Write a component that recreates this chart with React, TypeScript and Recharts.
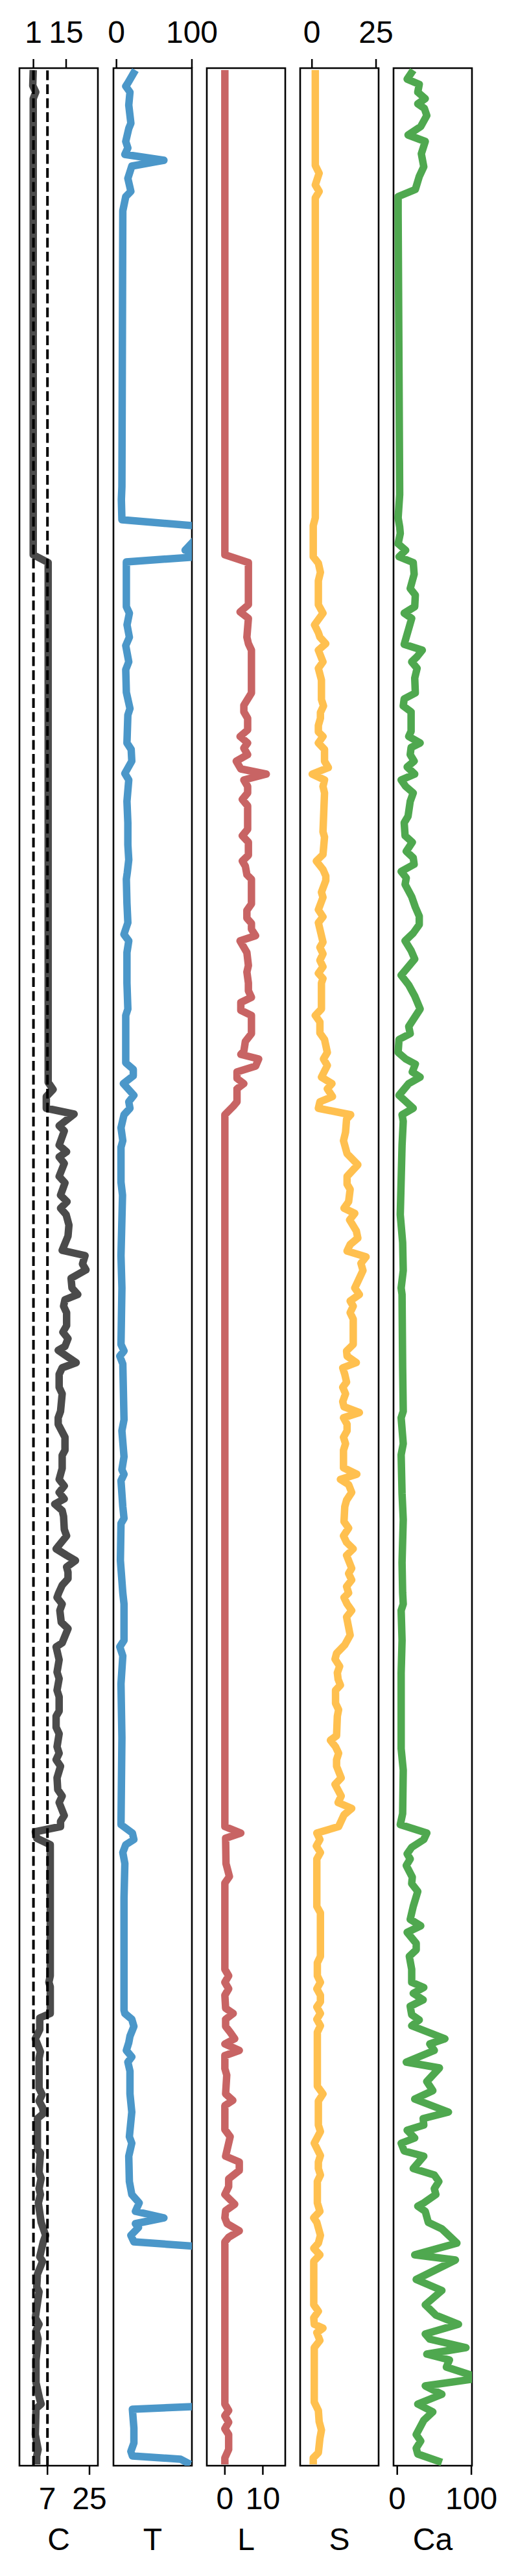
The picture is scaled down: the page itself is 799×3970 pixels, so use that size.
import React from 'react';
import { LineChart, Line, XAxis, YAxis, ReferenceLine, ReferenceArea } from 'recharts';

// depth (m) , value pairs
const cData: [number, number][] = [
  [0.3, 0.9], [2.7, 0.7], [3.7, 2.0], [4.7, 0.9], [75.0, 0.9], [76.2, 7.3], [156.3, 7.3], [157.4, 9.4], [158.5, 6.5],
  [160.3, 6.5], [161.2, 18.4], [163.0, 12.0], [163.8, 14.2], [166.0, 12.0], [167.0, 15.2], [167.8, 12.0], [168.8, 14.2],
  [170.8, 12.0], [171.8, 14.5], [173.7, 12.6], [174.7, 15.4], [175.7, 12.6], [176.7, 15.0], [178.3, 16.2], [180.0, 15.8],
  [182.2, 13.3], [183.0, 23.1], [184.3, 22.0], [185.2, 23.5], [186.5, 17.1], [188.0, 17.5], [189.0, 20.0], [189.8, 14.5],
  [190.8, 13.9], [191.8, 15.2], [193.8, 15.2], [194.8, 13.6], [195.8, 15.8], [197.0, 14.5], [197.6, 11.6], [198.5, 15.2],
  [199.5, 19.3], [200.3, 13.3], [201.3, 12.0], [203.3, 12.0], [204.3, 13.3], [207.0, 12.6], [208.0, 11.6], [209.0, 11.6],
  [211.0, 14.5], [213.0, 14.5], [213.8, 13.3], [215.8, 13.3], [217.5, 12.0], [218.5, 14.2], [219.5, 12.0], [220.5, 14.2],
  [221.3, 10.1], [222.3, 13.3], [223.2, 13.9], [225.2, 14.2], [226.2, 15.2], [228.2, 10.7], [229.2, 15.2], [230.0, 19.0],
  [231.0, 15.2], [231.8, 15.8], [232.8, 15.8], [233.8, 13.3], [235.0, 11.8], [235.7, 11.1], [236.7, 13.3], [237.7, 12.3],
  [239.5, 12.9], [240.5, 15.8], [242.7, 13.3], [243.3, 10.7], [245.3, 12.0], [247.2, 11.1], [248.2, 12.0], [250.0, 11.1],
  [251.0, 12.0], [253.2, 12.0], [254.0, 10.7], [255.7, 10.7], [256.7, 12.0], [258.7, 11.1], [259.7, 12.0], [260.7, 10.7],
  [261.7, 12.6], [263.5, 11.1], [265.3, 11.4], [266.3, 13.3], [267.3, 12.0], [269.3, 14.2], [270.2, 12.6], [271.0, 12.6],
  [271.8, 1.8], [272.8, 2.4], [273.8, 8.2], [294.0, 8.2], [295.0, 7.6], [295.7, 8.2], [299.8, 8.2], [300.5, 3.7],
  [302.3, 3.7], [303.7, 1.8], [305.7, 4.0], [306.7, 3.4], [311.3, 3.4], [312.3, 4.7], [313.3, 3.4], [314.3, 4.9],
  [315.2, 5.3], [316.0, 2.7], [320.7, 2.7], [321.3, 4.0], [324.3, 3.4], [325.2, 4.3], [326.8, 3.4], [327.7, 4.0],
  [329.0, 3.1], [332.0, 4.3], [334.0, 6.2], [335.0, 5.2], [337.3, 3.7], [338.0, 4.9], [340.0, 2.7], [342.0, 2.4],
  [342.7, 3.4], [346.7, 1.8], [347.7, 3.4], [348.7, 2.1], [350.0, 3.0], [353.3, 2.1], [356.7, 2.1], [359.3, 3.7],
  [360.0, 4.3], [360.7, 2.1], [364.7, 1.8], [367.0, 3.0], [368.0, 2.4], [369.3, 2.4],
];

const tData: [number, number][] = [
  [0.3, 25.1], [2.3, 15.1], [2.8, 12.3], [3.7, 17.9], [5.7, 16.3], [8.5, 19.1], [9.3, 16.3], [11.3, 12.3], [12.3, 15.1],
  [13.3, 11.1], [14.2, 62.9], [15.1, 20.3], [17.0, 15.1], [19.0, 19.1], [19.8, 12.3], [22.0, 8.4], [64.5, 7.2],
  [66.5, 6.5], [69.6, 7.2], [70.7, 120], [74.3, 91], [75.2, 120], [76.1, 13.1], [83.0, 13.1], [84.0, 17.1], [85.8, 14.0],
  [87.7, 17.1], [89.0, 12.3], [91.5, 16.3], [92.7, 12.3], [96.2, 13.1], [98.7, 17.9], [99.7, 15.1], [104.0, 13.9],
  [105.0, 19.5], [106.8, 20.3], [108.7, 11.1], [109.7, 16.3], [113.0, 13.9], [116.3, 15.1], [119.7, 15.1], [122.0, 16.3],
  [124.0, 14.3], [125.0, 13.1], [128.7, 13.9], [131.7, 15.1], [133.5, 9.9], [134.5, 16.3], [136.3, 13.9], [141.0, 13.9],
  [145.0, 15.1], [146.0, 12.3], [153.3, 12.3], [154.3, 22.3], [155.3, 22.3], [156.5, 9.1], [158.3, 23.1], [159.3, 16.3],
  [160.3, 17.9], [161.3, 10.0], [163.3, 6.0], [165.3, 8.4], [166.3, 6.0], [171.7, 6.0], [173.7, 8.0], [183.0, 6.0],
  [188.0, 7.2], [196.7, 6.0], [197.7, 10.0], [198.5, 4.4], [199.7, 8.4], [208.3, 10.0], [210.0, 7.2], [214.0, 10.0],
  [216.0, 7.2], [216.7, 10.0], [217.7, 6.0], [221.7, 8.4], [223.5, 10.0], [224.3, 6.0], [230.0, 5.2], [235.0, 8.4],
  [236.7, 10.0], [242.3, 10.0], [243.3, 4.4], [244.7, 8.4], [249.0, 6.0], [257.3, 7.2], [270.7, 6.0], [272.0, 21.1],
  [273.0, 23.1], [273.8, 12.3], [275.0, 8.4], [276.7, 11.1], [282.0, 10.0], [299.3, 10.0], [299.8, 11.1], [300.7, 20.3],
  [301.8, 23.1], [303.3, 17.9], [304.3, 16.3], [305.5, 13.1], [306.5, 20.3], [307.3, 15.1], [308.7, 17.9], [312.2, 17.9],
  [315.0, 20.3], [318.8, 17.1], [319.8, 20.3], [321.8, 16.3], [325.7, 17.1], [327.7, 20.3], [329.0, 30.1], [330.3, 25.1],
  [331.3, 62.9], [332.2, 25.1], [332.8, 29.1], [334.0, 19.1], [335.0, 23.1], [335.8, 118], [344.5, 120], [354.5, 118],
  [360.3, 118], [360.8, 21.1], [363.7, 23.1], [366.0, 23.1], [367.3, 19.1], [368.0, 21.1], [368.5, 85], [369.3, 98],
];

const lData: [number, number][] = [
  [0.3, 0], [75.0, 0], [76.2, 6.2], [82.7, 6.2], [83.8, 4.0], [84.8, 6.2], [87.7, 5.8], [88.7, 6.2], [89.7, 7.0],
  [96.3, 7.0], [98.2, 5.0], [99.2, 5.0], [100.2, 6.0], [102.0, 6.0], [103.0, 4.0], [104.0, 6.0], [104.8, 5.0],
  [105.8, 6.0], [106.8, 3.0], [108.0, 4.2], [108.8, 10.9], [109.7, 5.0], [110.7, 6.0], [111.7, 6.0], [112.7, 4.6],
  [113.7, 6.0], [117.3, 6.0], [118.3, 4.6], [119.3, 6.2], [121.3, 6.2], [122.2, 4.6], [123.0, 5.4], [124.3, 5.8],
  [125.0, 7.0], [128.8, 7.0], [129.8, 5.8], [131.0, 5.8], [131.8, 7.0], [132.7, 7.0], [133.7, 8.1], [134.5, 4.0],
  [136.3, 5.8], [138.3, 6.2], [139.3, 5.8], [141.0, 6.2], [142.2, 6.2], [143.2, 7.0], [144.0, 4.2], [145.2, 4.2],
  [146.0, 7.0], [148.8, 7.0], [150.0, 5.4], [151.5, 5.0], [152.0, 4.2], [152.7, 8.9], [153.8, 8.1], [154.7, 3.2],
  [155.7, 3.2], [156.5, 5.0], [157.3, 3.2], [159.3, 3.2], [160.0, 2.2], [161.3, 0], [271.0, 0], [272.0, 4.2],
  [272.8, 0.2], [276.7, 0.3], [278.7, 1.2], [279.7, 0], [293.0, 0], [294.0, 1.0], [295.0, 0], [296.0, 1.0], [297.0, 0],
  [299.0, 0.2], [299.8, 2.2], [300.7, 0.2], [301.8, 0.2], [302.7, 1.4], [303.7, 2.6], [304.5, 0], [305.5, 3.8],
  [306.3, 0], [308.3, 0], [309.3, 0.5], [312.2, 0.2], [313.2, 2.1], [314.0, 0], [317.7, 0], [318.8, 1.4], [319.8, 1.0],
  [321.8, 0.2], [322.7, 3.8], [324.0, 3.8], [325.3, 1.0], [326.5, 1.0], [327.7, 0], [329.2, 2.6], [330.2, 0.2],
  [331.3, 0], [332.2, 0.6], [333.3, 3.8], [334.3, 1.0], [335.0, 0], [360.0, 0], [361.0, 1.0], [361.8, 0], [362.8, 1.0],
  [363.8, 0], [364.7, 1.0], [367.0, 1.0], [368.3, 0], [369.3, 0],
];

const sData: [number, number][] = [
  [0.3, 1.3], [15.0, 1.3], [16.2, 2.8], [18.0, 1.3], [19.0, 2.8], [20.0, 1.3], [69.3, 1.3], [70.5, 0.5], [75.3, 0.5],
  [76.3, 2.5], [77.7, 3.3], [79.0, 2.5], [82.7, 2.5], [84.0, 4.3], [85.8, 1.0], [87.0, 2.5], [87.7, 3.1], [88.7, 5.4],
  [89.7, 2.5], [91.5, 4.3], [92.5, 2.5], [94.3, 3.7], [97.3, 3.7], [98.3, 4.5], [99.3, 3.3], [100.2, 3.3], [101.3, 2.5],
  [102.3, 2.5], [103.0, 4.3], [104.0, 2.5], [105.0, 4.9], [106.8, 4.9], [107.8, 6.4], [108.8, 0.1], [109.7, 4.9],
  [110.7, 4.3], [111.7, 4.9], [117.7, 4.3], [118.5, 4.9], [121.2, 4.3], [122.2, 1.7], [123.5, 4.3], [124.5, 5.4],
  [125.2, 5.4], [127.0, 3.7], [127.8, 4.3], [129.7, 2.5], [130.8, 4.3], [131.7, 2.5], [134.7, 4.3], [135.5, 3.1],
  [136.5, 4.3], [137.5, 3.1], [138.5, 4.3], [139.5, 2.5], [140.3, 4.3], [141.0, 3.7], [145.0, 3.7], [146.0, 1.3],
  [147.0, 3.1], [148.7, 3.1], [149.7, 4.9], [151.7, 6.0], [152.7, 4.5], [153.7, 6.0], [155.5, 3.7], [156.5, 7.8],
  [157.3, 6.0], [158.5, 8.0], [159.3, 3.1], [160.3, 2.5], [161.3, 15.1], [162.0, 13.5], [164.0, 13.1], [165.3, 12.3],
  [167.3, 13.7], [169.0, 17.9], [170.8, 13.7], [172.0, 13.7], [172.8, 14.9], [174.7, 14.3], [175.7, 12.5], [176.5, 16.7],
  [177.5, 14.7], [179.2, 17.3], [180.3, 17.9], [181.3, 14.9], [182.3, 13.7], [183.2, 21.1], [184.2, 19.1], [185.3, 19.9],
  [187.0, 17.9], [188.0, 16.7], [189.0, 18.5], [190.0, 14.9], [190.8, 16.1], [191.8, 14.9], [192.8, 16.1], [196.7, 16.1],
  [197.7, 13.5], [198.5, 13.7], [199.5, 17.3], [200.3, 12.0], [201.3, 12.8], [202.5, 13.5], [203.3, 12.0], [204.3, 13.1],
  [205.5, 12.0], [206.3, 12.5], [207.2, 18.5], [208.0, 12.3], [209.0, 13.7], [210.0, 13.7], [211.0, 12.3], [212.0, 13.1],
  [213.0, 12.3], [215.7, 12.3], [216.7, 17.5], [217.5, 11.1], [218.3, 14.3], [219.5, 15.5], [220.7, 13.5], [221.7, 12.8],
  [224.0, 12.5], [225.0, 14.3], [226.2, 12.3], [227.2, 13.5], [228.2, 16.1], [229.2, 13.5], [230.0, 14.3], [231.2, 15.5],
  [232.0, 14.3], [233.0, 15.5], [234.0, 13.5], [235.0, 14.3], [235.7, 12.5], [236.7, 13.7], [237.7, 15.5], [238.7, 13.5],
  [241.5, 14.9], [243.0, 12.8], [244.3, 9.6], [245.2, 9.0], [246.3, 10.8], [247.3, 9.9], [248.3, 10.2], [249.2, 11.1],
  [250.0, 9.2], [252.0, 9.2], [253.0, 10.4], [254.0, 9.9], [257.0, 9.6], [257.7, 7.2], [258.7, 9.2], [259.7, 10.4],
  [260.7, 9.6], [261.7, 9.6], [263.5, 11.4], [264.5, 9.0], [266.3, 11.4], [267.3, 10.2], [268.2, 15.5], [269.2, 12.5],
  [271.0, 10.4], [272.0, 1.9], [273.0, 3.1], [274.0, 1.7], [275.0, 3.3], [276.0, 1.9], [283.3, 1.9], [284.3, 3.3],
  [291.0, 3.3], [292.0, 2.1], [294.0, 2.1], [295.0, 3.3], [296.0, 1.9], [297.0, 3.3], [298.0, 3.3], [298.8, 1.9],
  [299.8, 3.3], [300.7, 1.9], [301.7, 3.3], [302.7, 2.1], [311.0, 2.1], [312.2, 4.3], [313.3, 2.5], [317.0, 2.5],
  [318.0, 3.3], [319.8, 0.9], [321.7, 3.3], [322.7, 2.5], [323.7, 2.5], [324.7, 3.3], [325.7, 2.1], [329.0, 2.1],
  [330.3, 3.1], [331.3, 0.7], [332.0, 1.9], [334.0, 3.3], [335.2, 2.5], [336.0, 0.7], [337.0, 3.1], [338.0, 0.7],
  [344.7, 0.7], [345.7, 2.5], [346.7, 0.7], [347.7, 0.9], [348.3, 4.3], [349.0, 1.9], [350.2, 3.1], [351.3, 0.9],
  [359.7, 0.9], [361.0, 2.5], [362.7, 2.8], [364.0, 3.7], [365.3, 3.1], [367.5, 2.5], [368.3, 0.5], [369.3, 0.5],
];

const caData: [number, number][] = [
  [0.3, 21.6], [1.7, 13.4], [2.5, 29.7], [3.7, 27.7], [4.7, 37.8], [5.5, 27.7], [6.2, 36.6], [7.3, 39.9], [9.0, 31.7],
  [10.3, 14.6], [11.3, 37.8], [13.2, 32.5], [15.2, 35.8], [16.7, 29.7], [18.7, 24.4], [19.8, 1.2], [22.3, 1.2],
  [47.0, 2.4], [65.7, 3.3], [69.3, 1.2], [70.7, 3.3], [71.7, 4.1], [73.3, 1.2], [74.3, 11.4], [75.3, 2.4], [76.2, 21.6],
  [78.0, 22.8], [80.2, 17.5], [81.2, 24.4], [83.0, 23.6], [84.0, 9.4], [84.8, 19.5], [88.8, 9.4], [89.7, 33.8],
  [90.7, 26.8], [91.5, 19.5], [92.5, 26.8], [94.0, 23.6], [96.3, 24.4], [97.2, 9.4], [98.3, 8.1], [99.2, 18.7],
  [102.2, 18.7], [103.0, 15.5], [104.0, 30.9], [104.7, 18.7], [105.8, 17.5], [106.8, 22.8], [107.7, 13.4], [108.8, 23.6],
  [109.7, 5.3], [110.7, 11.4], [111.7, 21.6], [113.0, 17.5], [115.3, 14.6], [116.3, 9.4], [118.3, 10.6], [119.3, 20.3],
  [120.7, 12.2], [121.7, 21.6], [122.7, 22.8], [123.8, 5.3], [124.8, 12.2], [125.8, 10.6], [127.7, 19.5], [129.3, 24.4],
  [130.7, 29.7], [132.0, 29.7], [133.3, 21.6], [134.5, 10.6], [136.0, 18.7], [137.3, 23.6], [138.7, 13.4], [139.8, 5.3],
  [141.3, 15.5], [143.0, 23.6], [145.0, 30.9], [147.7, 15.5], [148.8, 17.5], [149.7, 2.4], [151.7, 1.2], [152.7, 11.4],
  [153.5, 24.4], [154.7, 20.3], [155.5, 30.9], [156.5, 15.5], [158.3, 2.4], [160.3, 21.6], [161.3, 6.5], [162.3, 8.1],
  [166.0, 6.5], [176.7, 4.1], [181.0, 7.3], [185.3, 8.1], [188.0, 5.3], [189.0, 6.5], [200.3, 7.3], [207.0, 8.1],
  [208.0, 5.3], [212.0, 8.1], [213.7, 5.3], [219.7, 6.5], [223.7, 8.1], [230.3, 6.5], [235.0, 7.3], [236.7, 8.1],
  [237.7, 5.3], [242.3, 6.5], [247.3, 5.3], [259.0, 5.3], [262.3, 8.1], [269.0, 7.3], [270.7, 4.1], [272.0, 39.9],
  [273.0, 35.8], [274.2, 19.5], [275.2, 13.4], [276.0, 17.5], [277.0, 12.2], [278.8, 20.3], [279.8, 19.5], [281.0, 27.7],
  [283.3, 21.6], [285.3, 17.5], [286.3, 31.7], [287.3, 13.4], [289.0, 25.6], [290.0, 25.6], [291.0, 16.3], [293.0, 19.5],
  [295.0, 19.5], [295.8, 35.8], [296.7, 21.6], [297.7, 35.0], [298.7, 17.5], [300.0, 19.5], [300.8, 29.7], [301.7, 19.5],
  [303.7, 64.3], [304.5, 43.9], [305.5, 50.0], [307.3, 12.2], [308.2, 56.9], [310.3, 39.9], [311.7, 48.0], [313.0, 23.6],
  [315.0, 69.1], [316.0, 35.0], [317.0, 35.8], [317.8, 13.4], [319.0, 23.6], [319.8, 5.3], [321.0, 9.4], [321.8, 35.8],
  [323.7, 21.6], [324.7, 50.0], [325.7, 56.1], [326.8, 50.0], [327.7, 52.1], [329.0, 35.8], [329.5, 27.7], [330.3, 37.8],
  [332.0, 41.9], [333.0, 60.2], [335.2, 80.5], [337.0, 23.6], [337.8, 78.5], [340.8, 25.6], [342.5, 60.2], [344.7, 37.8],
  [346.3, 52.1], [347.7, 82.6], [349.2, 37.8], [350.0, 43.9], [351.3, 92.7], [352.3, 39.9], [353.2, 70.4], [354.3, 66.3],
  [356.0, 112], [357.2, 37.8], [358.5, 60.2], [360.0, 27.7], [361.2, 48.0], [362.5, 35.8], [364.7, 25.6], [365.7, 31.7],
  [366.8, 25.6], [367.7, 27.7], [369.0, 60.2],
];

const titles = ['C', 'T', 'L', 'S', 'Ca'];
const colors = ['#4b4b4b', '#4b97c9', '#c86464', '#ffc04f', '#4fa84f'];
const domains: [number, number][] = [[-5, 28.6], [-4, 100], [-4.75, 15.9], [-4.6, 26], [-5, 100.8]];
const topTicks: number[][] = [[1, 15], [0, 100], [], [0, 25], []];
const bottomTicks: number[][] = [[7, 25], [], [0, 10], [], [0, 100]];
const cGuides = [1, 7];
const depthRange: [number, number] = [0, 369.5];
const seriesList = [cData, tData, lData, sData, caData];

const FONT = '"Liberation Sans", Arial, sans-serif';
const FS = 48;
const panelLefts = [30, 175, 319, 463, 607];
const PW = 121;
const SIDE = 40;

function Panel({ idx }: { idx: number }) {
  const data = seriesList[idx].map(([depth, v]) => ({ depth, v }));
  const domain = domains[idx];
  const tt = topTicks[idx];
  const bt = bottomTicks[idx];
  const tickStyle = { fontSize: FS, fill: '#000', fontFamily: FONT };
  const tickLine = { stroke: '#000', strokeWidth: 2.5 };
  return (
    <div style={{ position: 'absolute', left: panelLefts[idx] - SIDE, top: 0 }}>
      <LineChart
        width={PW + 2 * SIDE}
        height={3970}
        layout="vertical"
        margin={{ top: 45, bottom: 30, left: SIDE, right: SIDE }}
      >
        <XAxis
          xAxisId="top"
          orientation="top"
          type="number"
          domain={domain}
          allowDataOverflow
          ticks={tt.length ? tt : undefined}
          tick={tt.length ? tickStyle : false}
          tickLine={tt.length ? tickLine : false}
          tickSize={14}
          tickMargin={25}
          interval={0}
          axisLine={false}
          height={60}
        />
        <XAxis
          xAxisId="bottom"
          orientation="bottom"
          type="number"
          domain={domain}
          allowDataOverflow
          ticks={bt.length ? bt : undefined}
          tick={bt.length ? tickStyle : false}
          tickLine={bt.length ? tickLine : false}
          tickSize={14}
          tickMargin={19}
          interval={0}
          axisLine={false}
          height={140}
          label={{ value: titles[idx], position: 'insideBottom', offset: 10, style: { fontSize: FS, fill: '#000', fontFamily: FONT } }}
        />
        <YAxis type="number" dataKey="depth" domain={depthRange} hide allowDataOverflow />
        <ReferenceArea
          xAxisId="bottom"
          x1={domain[0]}
          x2={domain[1]}
          y1={depthRange[0]}
          y2={depthRange[1]}
          fill="none"
          stroke="#000"
          strokeWidth={2.6}
          ifOverflow="visible"
        />
        <Line
          xAxisId="bottom"
          data={data}
          dataKey="v"
          type="linear"
          stroke={colors[idx]}
          strokeWidth={11.5}
          strokeLinejoin="round"
          dot={false}
          activeDot={false}
          isAnimationActive={false}
        />
        {idx === 0 &&
          cGuides.map((g) => (
            <ReferenceLine key={g} xAxisId="bottom" x={g} stroke="#000" strokeWidth={4} strokeDasharray="15 6.5" />
          ))}
      </LineChart>
    </div>
  );
}

export default function App() {
  return (
    <div style={{ position: 'absolute', left: 0, top: 0, width: 799, height: 3970, background: '#fff', fontFamily: FONT }}>
      {titles.map((_, i) => (
        <Panel key={i} idx={i} />
      ))}
    </div>
  );
}
